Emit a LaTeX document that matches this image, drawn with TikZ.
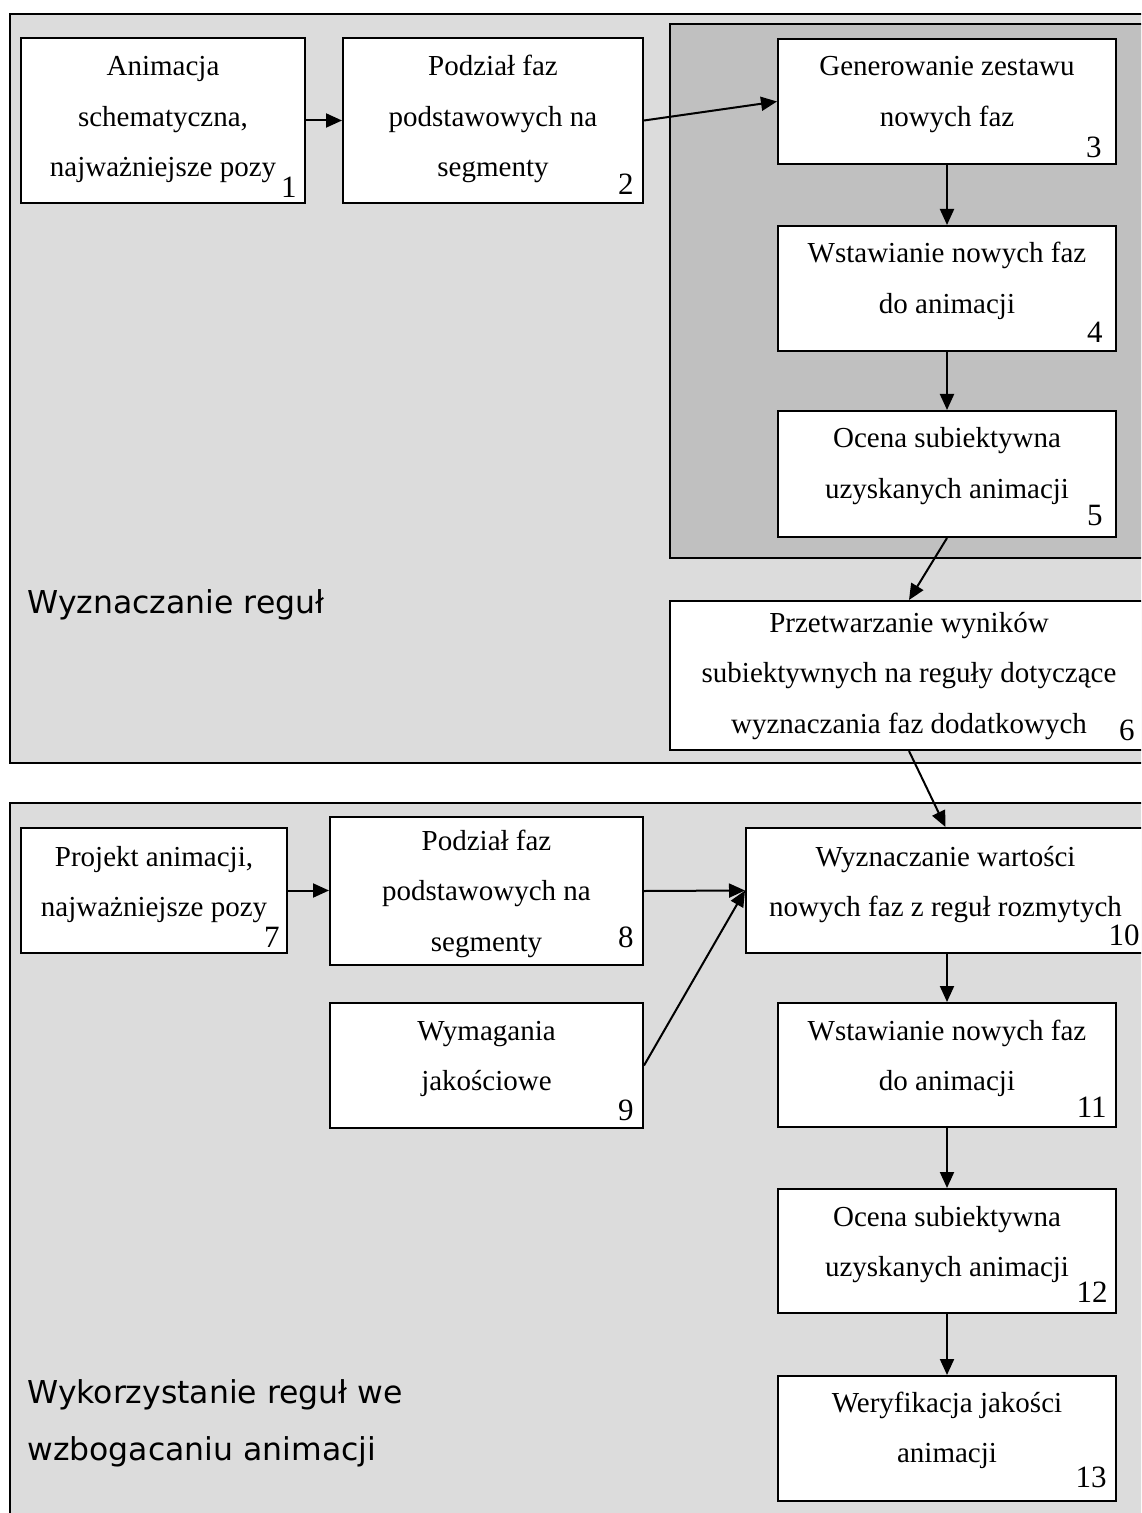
\documentclass[tikz,border=0pt]{standalone}
\usepackage{fontspec}
\setmainfont{Liberation Serif}
\newfontfamily\panelfont{DejaVu Sans}
\usetikzlibrary{arrows.meta,fit}
% stacks of lines whose baseline is the first line
\newcommand\stacklines[1]{\begin{tabular}[t]{@{}c@{}}#1\end{tabular}}
\newcommand\stackleft[1]{\begin{tabular}[t]{@{}l@{}}#1\end{tabular}}
\definecolor{panelgray}{RGB}{220,220,220}
\definecolor{innergray}{RGB}{192,192,192}
\begin{document}
\begin{tikzpicture}[x=0.5pt,y=-0.5pt,
  box/.style={draw,line width=1pt,fill=white,inner sep=0pt},
  txt/.style={anchor=base,inner sep=0pt,font=\fontsize{14.5}{25.25}\selectfont},
  num/.style={anchor=base east,inner sep=0pt,font=\fontsize{15.5}{18}\selectfont},
  flow/.style={line width=1pt,-{Triangle[length=8pt,width=7pt]}},
  panel/.style={draw,line width=1pt},
  sect/.style={anchor=base west,inner sep=0pt,font=\panelfont\fontsize{15.75}{28.5}\selectfont}]
\useasboundingbox (0,0) rectangle (1141,1513);
\clip (0,0) rectangle (1141,1513);

% panels
\draw[panel,fill=panelgray] (9.5,14) rectangle (1160,763);
\draw[panel,fill=innergray] (670,24) rectangle (1160,558);
\draw[panel,fill=panelgray] (9.5,803) rectangle (1160,1530);

\node[sect] (sec1) at (27,613) {Wyznaczanie reguł};
\node[sect] (sec2) at (27,1403) {\stackleft{Wykorzystanie reguł we\\wzbogacaniu animacji}};

% boxes
\node[box,fit={(21,38) (305,203)}] (b1) {};
\node[box,fit={(343,38) (643,203)}] (b2) {};
\node[box,fit={(778,39) (1116,164)}] (b3) {};
\node[box,fit={(778,226) (1116,351)}] (b4) {};
\node[box,fit={(778,411) (1116,537)}] (b5) {};
\node[box,fit={(670,601) (1148,750)}] (b6) {};
\node[box,fit={(21,828) (287,953)}] (b7) {};
\node[box,fit={(330,817) (643,965)}] (b8) {};
\node[box,fit={(330,1003) (643,1128)}] (b9) {};
\node[box,fit={(746,828) (1145,953)}] (b10) {};
\node[box,fit={(778,1003) (1116,1127)}] (b11) {};
\node[box,fit={(778,1189) (1116,1313)}] (b12) {};
\node[box,fit={(778,1376) (1116,1501)}] (b13) {};

% box texts
\node[txt] (t1) at (163,76) {\stacklines{Animacja\\schematyczna,\\najważniejsze pozy}};
\node[txt] (t2) at (493,76) {\stacklines{Podział faz\\podstawowych na\\segmenty}};
\node[txt] (t3) at (947,76) {\stacklines{Generowanie zestawu\\nowych faz}};
\node[txt] (t4) at (947,263) {\stacklines{Wstawianie nowych faz\\do animacji}};
\node[txt] (t5) at (947,448) {\stacklines{Ocena subiektywna\\uzyskanych animacji}};
\node[txt] (t6) at (909,632) {\stacklines{Przetwarzanie wyników\\subiektywnych na reguły dotyczące\\wyznaczania faz dodatkowych}};
\node[txt] (t7) at (154,866) {\stacklines{Projekt animacji,\\najważniejsze pozy}};
\node[txt] (t8) at (486.5,850) {\stacklines{Podział faz\\podstawowych na\\segmenty}};
\node[txt] (t9) at (486.5,1040) {\stacklines{Wymagania\\jakościowe}};
\node[txt] (t10) at (945.5,866) {\stacklines{Wyznaczanie wartości\\nowych faz z reguł rozmytych}};
\node[txt] (t11) at (947,1040) {\stacklines{Wstawianie nowych faz\\do animacji}};
\node[txt] (t12) at (947,1226) {\stacklines{Ocena subiektywna\\uzyskanych animacji}};
\node[txt] (t13) at (947,1412) {\stacklines{Weryfikacja jakości\\animacji}};

% step numbers
\node[num] (n1) at (297,198) {1};
\node[num] (n2) at (634,195) {2};
\node[num] (n3) at (1102,158) {3};
\node[num] (n4) at (1103,343) {4};
\node[num] (n5) at (1103,525) {5};
\node[num] (n6) at (1135,740) {6};
\node[num] (n7) at (280,947) {7};
\node[num] (n8) at (634,947) {8};
\node[num] (n9) at (634,1120) {9};
\node[num] (n10) at (1140,945) {10};
\node[num] (n11) at (1107,1117) {11};
\node[num] (n12) at (1108,1302) {12};
\node[num] (n13) at (1107,1487) {13};

% connectors
\draw[flow] (b1.east) -- (b1.east -| b2.west);
\draw[flow] (b2.east) -- (b3.west);
\draw[flow] (b3.south) -- (b4.north);
\draw[flow] (b4.south) -- (b5.north);
\draw[flow] (b5.south) -- (b6.north);
\draw[flow] (b6.south) -- (b10.north);
\draw[flow] (b7.east) -- (b7.east -| b8.west);
\draw[flow] (b8.east) -- (b10.west);
\draw[flow] (b9.east) -- (b10.west);
\draw[flow] (b11.north |- b10.south) -- (b11.north);
\draw[flow] (b11.south) -- (b12.north);
\draw[flow] (b12.south) -- (b13.north);
\end{tikzpicture}
\end{document}
